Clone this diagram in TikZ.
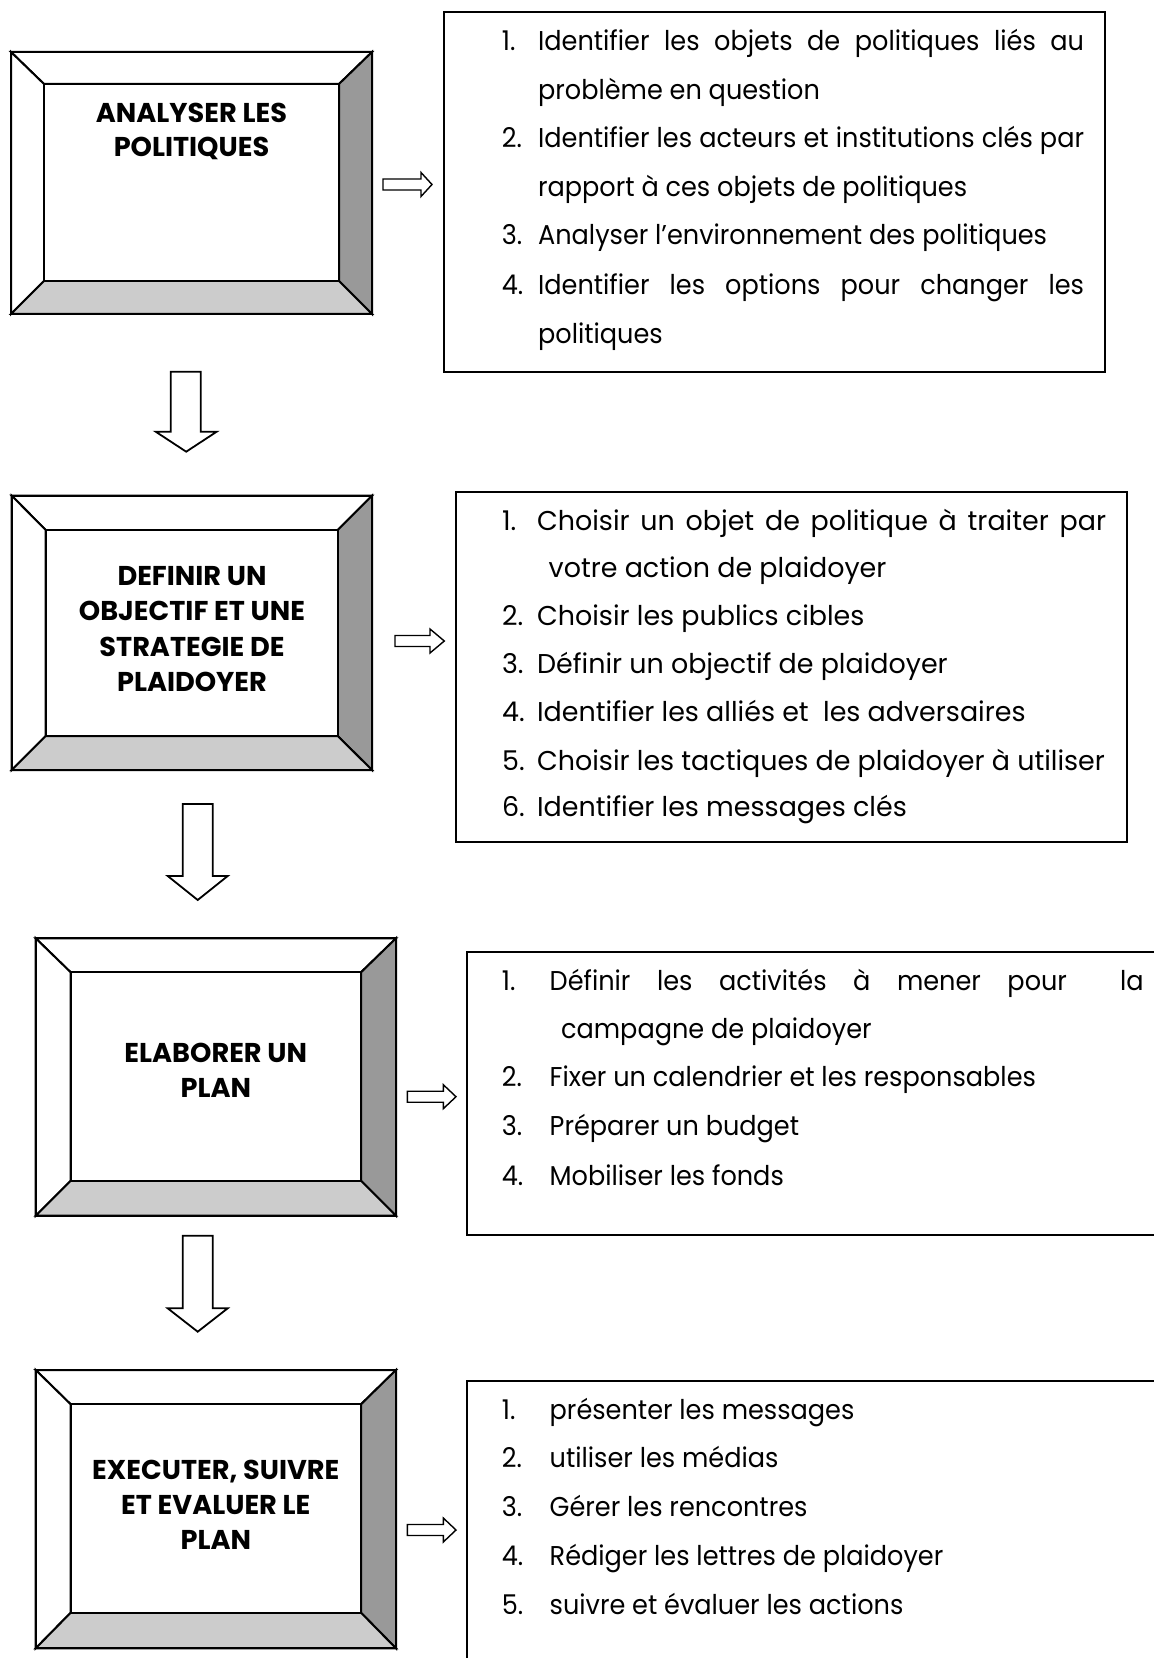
\documentclass[tikz,border=0pt]{standalone}
\usepackage{fontspec}
\setmainfont{Poppins}
\newfontfamily\listfontA[FakeStretch=0.94]{Poppins}
\newfontfamily\listfontB[FakeStretch=0.99]{Poppins}
\usetikzlibrary{fit}

\definecolor{bevelright}{HTML}{999999}
\definecolor{bevelbottom}{HTML}{CCCCCC}

\tikzset{
  x=0.5pt, y=-0.5pt,
  frame/.style={draw=black, line width=1pt},
  blockarrow/.style={draw=black, line width=0.7pt, fill=white, line join=miter},
  downblock/.style={draw=black, line width=0.9pt, fill=white, line join=miter},
  heading/.style={inner sep=0pt, anchor=base, font=\fontsize{13.6}{16}\selectfont\bfseries},
  itemA/.style={inner sep=0pt, anchor=base west, font=\fontsize{13.6}{16}\selectfont\listfontA},
  itemB/.style={inner sep=0pt, anchor=base west, font=\fontsize{13.6}{16}\selectfont\listfontB},
}

% bevelled frame: name, outer corners (x1,y1)-(x2,y2), inner corners (X1,Y1)-(X2,Y2)
\newcommand\bevelbox[9]{%
  \coordinate (#1-o1) at (#2,#3);
  \coordinate (#1-o2) at (#4,#5);
  \coordinate (#1-i1) at (#6,#7);
  \coordinate (#1-i2) at (#8,#9);
  \filldraw[frame, fill=white] (#2,#3) -- (#4,#3) -- (#8,#7) -- (#6,#7) -- cycle;
  \filldraw[frame, fill=white] (#2,#3) -- (#6,#7) -- (#6,#9) -- (#2,#5) -- cycle;
  \filldraw[frame, fill=bevelright] (#4,#3) -- (#4,#5) -- (#8,#9) -- (#8,#7) -- cycle;
  \filldraw[frame, fill=bevelbottom] (#2,#5) -- (#4,#5) -- (#8,#9) -- (#6,#9) -- cycle;
  \node[frame, fill=white, inner sep=0pt, fit=(#1-i1)(#1-i2)] (#1) {};
  \node[frame, inner sep=0pt, fit=(#1-o1)(#1-o2)] (#1-outer) {};
}

% hollow arrow pointing right: name, x start, x head base, x tip, y centre
\newcommand\rightblock[5]{%
  \coordinate (#1-start) at (#2,#5);
  \coordinate (#1-tip) at (#4,#5);
  \draw[blockarrow] (#2,{#5-5.5}) -- (#3,{#5-5.5}) -- (#3,{#5-12}) -- (#1-tip)
    -- (#3,{#5+12}) -- (#3,{#5+5.5}) -- (#2,{#5+5.5}) -- cycle;
}

% hollow arrow pointing down: name, shaft x1, shaft x2, y top, y head base, head x1, head x2, y tip
\newcommand\downblock[8]{%
  \coordinate (#1-start) at ({(#2+#3)/2},#4);
  \coordinate (#1-tip) at ({(#6+#7)/2},#8);
  \draw[downblock] (#2,#4) -- (#3,#4) -- (#3,#5) -- (#7,#5) -- (#1-tip)
    -- (#6,#5) -- (#2,#5) -- cycle;
}

\begin{document}
\begin{tikzpicture}
\useasboundingbox[fill=white] (0,0) rectangle (1154,1658);
\clip (0,0) rectangle (1154,1658);

% ---------- step 1 ----------
\bevelbox{s1}{11}{52}{372}{314}{44}{84}{339}{281}
\node[heading] (s1-t1) at (191.5,123) {ANALYSER LES};
\node[heading] (s1-t2) at (191.5,157) {POLITIQUES};

\rightblock{r1}{383}{421}{432}{184.5}

\node[frame, inner sep=0pt, fit={(443.5,12) (1105,372)}] (list1) {};
\node[itemA] (l1-n1) at (501.5,51) {1.};
\node[itemA] (l1-a) at (537.7,51) {\makebox[273pt][s]{Identifier les objets de politiques liés au}};
\node[itemA] (l1-b) at (537.7,99.3) {problème en question};
\node[itemA] (l1-n2) at (501.5,147.7) {2.};
\node[itemA] (l1-c) at (537.7,147.7) {\makebox[273pt][s]{Identifier les acteurs et institutions clés par}};
\node[itemA] (l1-d) at (537.7,196.7) {rapport à ces objets de politiques};
\node[itemA] (l1-n3) at (501.5,245) {3.};
\node[itemA] (l1-e) at (537.7,245) {Analyser l’environnement des politiques};
\node[itemA] (l1-n4) at (501.5,295) {4.};
\node[itemA] (l1-f) at (537.7,295) {\makebox[273pt][s]{Identifier les options pour changer les}};
\node[itemA] (l1-g) at (537.7,343.3) {politiques};

\downblock{d1}{170.7}{200.7}{371.7}{431.7}{155.7}{216.7}{451.7}

% ---------- step 2 ----------
\bevelbox{s2}{11.7}{495.7}{372}{770}{45.7}{530}{337.7}{736}
\node[heading] (s2-t1) at (192,585) {DEFINIR UN};
\node[heading] (s2-t2) at (192,620.5) {OBJECTIF ET UNE};
\node[heading] (s2-t3) at (192,656.5) {STRATEGIE DE};
\node[heading] (s2-t4) at (192,691.7) {PLAIDOYER};

\rightblock{r2}{395}{430}{444.3}{641}

\node[frame, inner sep=0pt, fit={(455.7,492.3) (1127,841.5)}] (list2) {};
\node[itemB] (l2-n1) at (501.7,530) {1.};
\node[itemB] (l2-a) at (536.7,530) {\makebox[284.5pt][s]{Choisir un objet de politique à traiter par}};
\node[itemB] (l2-b) at (548.3,577) {votre action de plaidoyer};
\node[itemB] (l2-n2) at (501.7,625) {2.};
\node[itemB] (l2-c) at (536.7,625) {Choisir les publics cibles};
\node[itemB] (l2-n3) at (501.7,673) {3.};
\node[itemB] (l2-d) at (536.7,673) {Définir un objectif de plaidoyer};
\node[itemB] (l2-n4) at (501.7,721.7) {4.};
\node[itemB] (l2-e) at (536.7,721.7) {Identifier les alliés et\ \ les adversaires};
\node[itemB] (l2-n5) at (501.7,770) {5.};
\node[itemB] (l2-f) at (536.7,770) {Choisir les tactiques de plaidoyer à utiliser};
\node[itemB] (l2-n6) at (501.7,816.7) {6.};
\node[itemB] (l2-g) at (536.7,816.7) {Identifier les messages clés};

\downblock{d2}{182.7}{212.7}{804}{876}{167.7}{227.7}{900}

% ---------- step 3 ----------
\bevelbox{s3}{35.7}{938.3}{396}{1215.7}{70.7}{972.3}{361}{1180.7}
\node[heading] (s3-t1) at (215.8,1062.7) {ELABORER UN};
\node[heading] (s3-t2) at (215.8,1097.7) {PLAN};

\rightblock{r3}{407.3}{443.3}{456}{1096.7}

\node[frame, inner sep=0pt, fit={(467.3,951.7) (1175,1235)}] (list3) {};
\node[itemA] (l3-n1) at (501.5,990) {1.};
\node[itemA] (l3-a) at (549.3,990) {\makebox[297pt][s]{Définir les activités à mener pour\ \ la}};
\node[itemA] (l3-b) at (560.7,1038.3) {campagne de plaidoyer};
\node[itemA] (l3-n2) at (501.5,1086.7) {2.};
\node[itemA] (l3-c) at (549.3,1086.7) {Fixer un calendrier et les responsables};
\node[itemA] (l3-n3) at (501.5,1135) {3.};
\node[itemA] (l3-d) at (549.3,1135) {Préparer un budget};
\node[itemA] (l3-n4) at (501.5,1185) {4.};
\node[itemA] (l3-e) at (549.3,1185) {Mobiliser les fonds};

\downblock{d3}{182.7}{212.7}{1235.7}{1308.3}{167.7}{227.7}{1331.7}

% ---------- step 4 ----------
\bevelbox{s4}{35.7}{1370}{396}{1648.3}{70.7}{1404.3}{361}{1612.7}
\node[heading] (s4-t1) at (215.8,1479) {EXECUTER, SUIVRE};
\node[heading] (s4-t2) at (215.8,1514) {ET EVALUER LE};
\node[heading] (s4-t3) at (215.8,1549.3) {PLAN};

\rightblock{r4}{407.3}{443.3}{456}{1530}

\node[frame, inner sep=0pt, fit={(467.3,1380.7) (1175,1680)}] (list4) {};
\node[itemA] (l4-n1) at (501.5,1419.3) {1.};
\node[itemA] (l4-a) at (549.3,1419.3) {présenter les messages};
\node[itemA] (l4-n2) at (501.5,1467.3) {2.};
\node[itemA] (l4-b) at (549.3,1467.3) {utiliser les médias};
\node[itemA] (l4-n3) at (501.5,1516) {3.};
\node[itemA] (l4-c) at (549.3,1516) {Gérer les rencontres};
\node[itemA] (l4-n4) at (501.5,1565) {4.};
\node[itemA] (l4-d) at (549.3,1565) {Rédiger les lettres de plaidoyer};
\node[itemA] (l4-n5) at (501.5,1614) {5.};
\node[itemA] (l4-e) at (549.3,1614) {suivre et évaluer les actions};
\end{tikzpicture}
\end{document}
